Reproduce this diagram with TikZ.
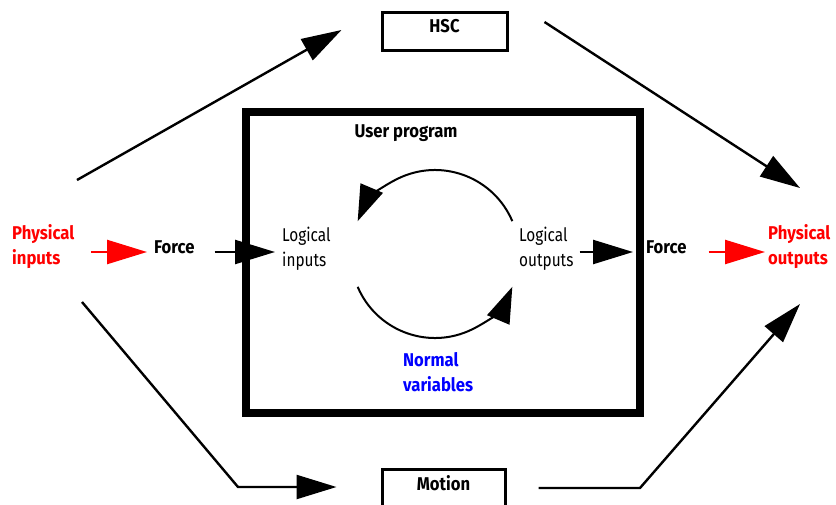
\documentclass[tikz,border=0pt]{standalone}
\usepackage{fontspec}
\setmainfont{Fira Sans}[FakeStretch=0.83]
\newfontfamily\heavy{Fira Sans}[FakeStretch=0.9]
\usetikzlibrary{arrows.meta}
\tikzstyle{txt}=[inner sep=0pt, align=left, font=\fontsize{18.5}{25}\selectfont]
\tikzstyle{bold}=[txt, font=\fontsize{18.5}{25}\selectfont\heavy\bfseries]
\tikzstyle{box}=[draw, line width=3pt, minimum width=125pt, minimum height=38pt, text depth=10pt, font=\fontsize{18.5}{25}\selectfont\heavy\bfseries]
\tikzstyle{edge}=[draw, line width=2.4pt, -{Triangle[length=40pt,width=24pt]}]
\tikzstyle{hot}=[edge, red]
\tikzstyle{turnarrow}=[draw, line width=2pt, -{Triangle[length=36pt,width=24pt]}]

\begin{document}
\begin{tikzpicture}[x=1pt,y=-1pt]
    \useasboundingbox (0,0) rectangle (836,504);
    % First we draw the frame of the program
    \draw[line width=7.5pt] (246,112) rectangle (640,413);
    % The labels
    \node[bold, red, anchor=west] (physin) at (12,247) {Physical\\inputs};
    \node[bold, anchor=west] (forcein) at (154,247) {Force};
    \node[txt, anchor=west] (login) at (282,249) {Logical\\inputs};
    \node[txt, anchor=west] (logout) at (519,249) {Logical\\outputs};
    \node[bold, anchor=west] (forceout) at (646,247) {Force};
    \node[bold, red, anchor=west] (physout) at (768,247) {Physical\\outputs};
    \node[bold] (prog) at (406,133) {User program};
    \node[bold, blue, anchor=west] (normal) at (403,372) {Normal\\variables};
    \node[box] (hsc) at (444.5,31) {HSC};
    \node[box, minimum width=123pt] (motion) at (443.5,488) {Motion};
    % Arrows along the middle row
    \path[hot] ([xshift=17pt,yshift=-5pt]physin.east) -- ([xshift=-7pt,yshift=-5pt]forcein.west);
    \path[edge] ([xshift=20pt,yshift=-5pt]forcein.east) -- ([xshift=-7pt,yshift=-3pt]login.west);
    \path[edge] ([xshift=6pt,yshift=-3pt]logout.east) -- ([xshift=-13pt,yshift=-5pt]forceout.west);
    \path[hot] ([xshift=22pt,yshift=-5pt]forceout.east) -- ([xshift=-3pt,yshift=-5pt]physout.west);
    % Round the outside through HSC and Motion
    \coordinate (hscin) at (77,180);
    \coordinate (hscout) at (800,188);
    \coordinate (motin) at (82,302);
    \coordinate (motbend) at (238,487);
    \coordinate (motknee) at (640,488);
    \coordinate (motout) at (800,304);
    \path[edge] (hscin) -- ([xshift=-39pt,yshift=1pt]hsc.west);
    \path[edge] ([xshift=36pt,yshift=9pt]hsc.east) -- (hscout);
    \path[edge] (motin) -- (motbend) -- ([xshift=-44pt,yshift=1pt]motion.west);
    \path[edge] ([xshift=32pt]motion.east) -- (motknee) -- (motout);
    % The cycle between logical inputs and outputs
    \coordinate (turn) at (435,254);
    \path[turnarrow] ([shift={(-23:84)}]turn) arc[start angle=-23, end angle=-157, radius=84];
    \path[turnarrow] ([shift={(157:84)}]turn) arc[start angle=157, end angle=23, radius=84];
\end{tikzpicture}
\end{document}
